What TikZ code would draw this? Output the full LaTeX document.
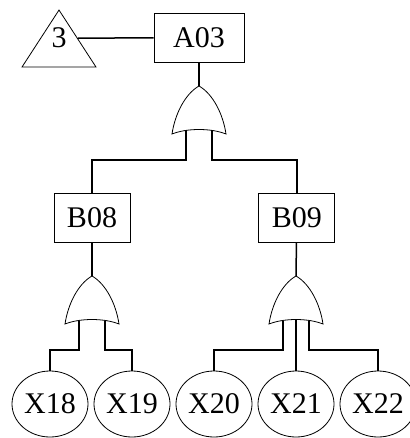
\documentclass[tikz,border=0pt]{standalone}
\usepackage{fontspec}
\setmainfont{Liberation Serif}
\usetikzlibrary{shapes.geometric,positioning}

\tikzset{
  big/.style={font=\fontsize{30}{34}\selectfont},
  event/.style={draw,rectangle,big,minimum width=76pt,minimum height=49pt,inner sep=0pt,line width=0.8pt},
  basic/.style={draw,ellipse,big,minimum width=76pt,minimum height=66pt,inner sep=0pt,line width=0.8pt},
  transfer/.style={draw,isosceles triangle,shape border rotate=90,isosceles triangle stretches,
    minimum width=74pt,minimum height=57pt,inner sep=0pt,line width=0.8pt},
  wire/.style={line width=1.5pt},
  % or gate, apex at the origin, inputs hang below
  orgate/.pic={
    \draw[line width=0.8pt] (0,0) .. controls (14,8) and (24,28) .. (27,48)
      .. controls (12,42) and (-12,42) .. (-27,48)
      .. controls (-24,28) and (-14,8) .. cycle;
    \coordinate (-top) at (0,0);
    \coordinate (-l) at (-13,44.5);
    \coordinate (-m) at (0,43.5);
    \coordinate (-r) at (13,44.5);
    \coordinate (-jl) at (-13,74);
    \coordinate (-jr) at (13,74);
  }
}

\begin{document}
\begin{tikzpicture}[x=1pt,y=-1pt]
  \useasboundingbox (0,0) rectangle (409,438);

  \node[event,minimum width=90pt] (A03) at (199,37.5) {A03};
  \node[transfer,anchor=apex] (T3) at (59,9) {};
  \node[big] (n3) at (T3.apex |- A03) {3};
  \path (T3.apex) -- (T3.right corner) coordinate[pos=0.5] (T3e);
  \pic (g0) at (199,86) {orgate};

  \node[event] (B08) at (92,217.5) {B08};
  \node[event,right=128pt of B08] (B09) {B09};
  \pic (g1) at (92,276) {orgate};
  \pic (g2) at (296,276) {orgate};

  \begin{scope}[node distance=82pt]
    \node[basic] (X18) at (50,404) {X18};
    \node[basic] (X19) [right of=X18] {X19};
    \node[basic] (X20) [right of=X19] {X20};
    \node[basic] (X21) [right of=X20] {X21};
    \node[basic] (X22) [right of=X21] {X22};
  \end{scope}

  \draw[wire] (T3e) -- (A03);
  \draw[wire] (A03) -- (g0-top);
  \draw[wire] (g0-l) -- (g0-jl) -| (B08);
  \draw[wire] (g0-r) -- (g0-jr) -| (B09);

  \draw[wire] (B08) -- (g1-top);
  \draw[wire] (g1-l) -- (g1-jl) -| (X18);
  \draw[wire] (g1-r) -- (g1-jr) -| (X19);

  \draw[wire] (B09) -- (g2-top);
  \draw[wire] (g2-l) -- (g2-jl) -| (X20);
  \draw[wire] (g2-m) -- (X21);
  \draw[wire] (g2-r) -- (g2-jr) -| (X22);
\end{tikzpicture}
\end{document}
